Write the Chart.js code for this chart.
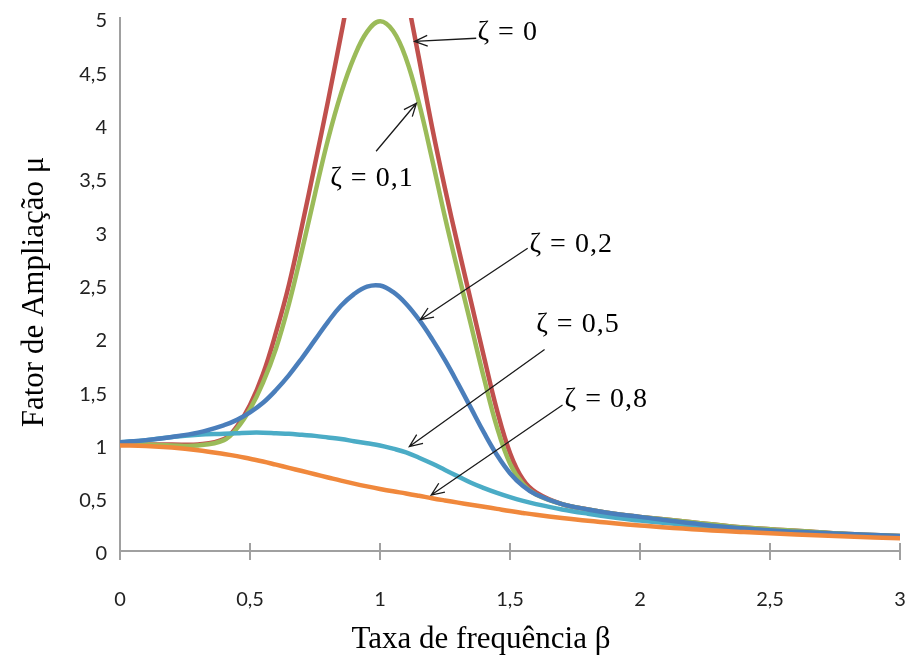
<!DOCTYPE html>
<html>
<head>
<meta charset="utf-8">
<title>Fator de Ampliação</title>
<script src="https://cdn.jsdelivr.net/npm/chart.js@4.4.1/dist/chart.umd.min.js"></script>
<style>
  body { margin: 0; background: #fff; }
</style>
</head>
<body>
<canvas id="chart" width="907" height="659"></canvas>
<script>
// frequency ratio (x) and amplification factor for each damping ratio
const beta = [0, 0.1, 0.2, 0.3, 0.4, 0.45, 0.5, 0.55, 0.6, 0.65, 0.7, 0.75, 0.8, 0.85, 0.9, 0.95,
              1, 1.05, 1.1, 1.15, 1.2, 1.25, 1.3, 1.35, 1.4, 1.45, 1.5, 1.55, 1.6, 1.7, 1.8, 1.9,
              2, 2.2, 2.4, 2.6, 2.8, 3];

const muZeta0  = [1.00, 1.00, 1.00, 1.00, 1.05, 1.17, 1.37, 1.66, 2.05, 2.50, 3.05, 3.63, 4.22, 4.84, 5.45, 5.90,
                  6.10, 5.90, 5.25, 4.62, 3.98, 3.40, 2.86, 2.34, 1.82, 1.32, 0.92, 0.67, 0.55, 0.44, 0.39, 0.35,
                  0.32, 0.27, 0.22, 0.19, 0.16, 0.14];
const muZeta01 = [1.00, 1.00, 0.99, 0.99, 1.04, 1.15, 1.33, 1.58, 1.90, 2.32, 2.82, 3.35, 3.86, 4.29, 4.63, 4.87,
                  4.97, 4.88, 4.62, 4.20, 3.68, 3.13, 2.62, 2.12, 1.62, 1.16, 0.82, 0.63, 0.53, 0.44, 0.39, 0.35,
                  0.32, 0.27, 0.22, 0.19, 0.16, 0.14];
const muZeta02 = [1.02, 1.04, 1.07, 1.11, 1.18, 1.23, 1.30, 1.39, 1.51, 1.65, 1.81, 1.98, 2.15, 2.30, 2.41, 2.48,
                  2.49, 2.43, 2.32, 2.17, 1.99, 1.79, 1.57, 1.34, 1.11, 0.90, 0.73, 0.61, 0.53, 0.44, 0.39, 0.35,
                  0.32, 0.26, 0.21, 0.18, 0.16, 0.14];
const muZeta05 = [1.02, 1.04, 1.07, 1.09, 1.10, 1.105, 1.11, 1.11, 1.105, 1.10, 1.09, 1.08, 1.065, 1.05, 1.03, 1.01,
                  0.99, 0.96, 0.925, 0.875, 0.82, 0.76, 0.70, 0.64, 0.59, 0.545, 0.505, 0.47, 0.44, 0.39, 0.35, 0.315,
                  0.285, 0.24, 0.20, 0.17, 0.15, 0.13];
const muZeta08 = [0.99, 0.985, 0.97, 0.945, 0.91, 0.89, 0.865, 0.84, 0.81, 0.78, 0.75, 0.72, 0.69, 0.66, 0.632, 0.606,
                  0.582, 0.56, 0.54, 0.518, 0.495, 0.474, 0.454, 0.434, 0.415, 0.395, 0.375, 0.357, 0.34, 0.31, 0.283, 0.26,
                  0.24, 0.205, 0.178, 0.155, 0.135, 0.12];

const xTickValues = [0, 0.5, 1, 1.5, 2, 2.5, 3];
const yTickValues = [0, 0.5, 1, 1.5, 2, 2.5, 3, 3.5, 4, 4.5, 5];

const xTitle = 'Taxa de frequência β';
const yTitle = 'Fator de Ampliação μ';

// callouts: label text, where the text sits, arrow tail and arrow tip (in chart units)
const notes = [
  { text: 'ζ = 0',   label: [1.375, 4.86], align: 'left',   tail: [1.370, 4.81], tip: [1.133, 4.78] },
  { text: 'ζ = 0,1', label: [0.969, 3.49], align: 'center', tail: [0.985, 3.75], tip: [1.140, 4.20] },
  { text: 'ζ = 0,2', label: [1.575, 2.87], align: 'left',   tail: [1.568, 2.84], tip: [1.155, 2.17] },
  { text: 'ζ = 0,5', label: [1.601, 2.12], align: 'left',   tail: [1.633, 1.89], tip: [1.113, 0.98] },
  { text: 'ζ = 0,8', label: [1.710, 1.42], align: 'left',   tail: [1.702, 1.37], tip: [1.197, 0.525] },
];

const axisColor = '#a0a0a0';
const tickFont = { family: 'Lato', size: 20 };

const series = [
  { label: 'ζ = 0',   data: muZeta0,  color: '#C0504D', order: 5 },
  { label: 'ζ = 0,1', data: muZeta01, color: '#9BBB59', order: 4 },
  { label: 'ζ = 0,5', data: muZeta05, color: '#4BACC6', order: 3 },
  { label: 'ζ = 0,2', data: muZeta02, color: '#4A7EBB', order: 2 },
  { label: 'ζ = 0,8', data: muZeta08, color: '#F0883C', order: 1 },
];

function comma(v) {
  return String(v).replace('.', ',');
}

function drawArrow(ctx, x1, y1, x2, y2) {
  const ang = Math.atan2(y2 - y1, x2 - x1);
  const len = 14, spread = 0.4;
  ctx.beginPath();
  ctx.moveTo(x1, y1);
  ctx.lineTo(x2, y2);
  ctx.moveTo(x2 - len * Math.cos(ang - spread), y2 - len * Math.sin(ang - spread));
  ctx.lineTo(x2, y2);
  ctx.lineTo(x2 - len * Math.cos(ang + spread), y2 - len * Math.sin(ang + spread));
  ctx.stroke();
}

const decorations = {
  id: 'decorations',
  afterDatasetsDraw(chart) {
    const { ctx, scales: { x, y } } = chart;
    ctx.save();
    ctx.strokeStyle = '#1a1a1a';
    ctx.lineWidth = 1.3;
    ctx.fillStyle = '#000';
    ctx.font = '28px "Liberation Serif"';
    ctx.letterSpacing = '1px';
    ctx.textBaseline = 'middle';
    notes.forEach(n => {
      drawArrow(ctx,
        x.getPixelForValue(n.tail[0]), y.getPixelForValue(n.tail[1]),
        x.getPixelForValue(n.tip[0]), y.getPixelForValue(n.tip[1]));
      ctx.textAlign = n.align;
      ctx.fillText(n.text, x.getPixelForValue(n.label[0]), y.getPixelForValue(n.label[1]));
    });
    ctx.restore();
  },
  afterDraw(chart) {
    const { ctx, scales: { x, y } } = chart;
    ctx.save();
    // tick marks cross the x axis, so draw the inner half too
    ctx.strokeStyle = axisColor;
    ctx.lineWidth = 2;
    ctx.beginPath();
    x.ticks.forEach(t => {
      const px = Math.round(x.getPixelForValue(t.value));
      ctx.moveTo(px, x.top);
      ctx.lineTo(px, x.top - 8);
    });
    ctx.stroke();

    ctx.fillStyle = '#000';
    ctx.font = '31px "Liberation Serif"';
    ctx.textAlign = 'center';
    ctx.textBaseline = 'alphabetic';
    ctx.fillText(xTitle, 481, 648);
    ctx.translate(43, 292);
    ctx.rotate(-Math.PI / 2);
    ctx.fillText(yTitle, 0, 0);
    ctx.restore();
  }
};

new Chart(document.getElementById('chart'), {
  type: 'line',
  data: {
    datasets: series.map(s => ({
      label: s.label,
      data: beta.map((b, i) => ({ x: b, y: s.data[i] })),
      borderColor: s.color,
      backgroundColor: s.color,
      borderWidth: 4.5,
      borderCapStyle: 'round',
      tension: 0.4,
      pointRadius: 0,
      order: s.order,
    })),
  },
  options: {
    responsive: false,
    animation: false,
    layout: { padding: { left: 0, right: 7, top: 18, bottom: 0 } },
    plugins: { legend: { display: false }, tooltip: { enabled: false } },
    scales: {
      x: {
        type: 'linear',
        min: 0,
        max: 3,
        afterFit: s => { s.height = 108; s.paddingLeft = 0; s.paddingRight = 0; },
        afterBuildTicks: s => { s.ticks = xTickValues.map(v => ({ value: v })); },
        ticks: { font: tickFont, color: '#222', padding: 28, maxRotation: 0, callback: comma },
        grid: { drawOnChartArea: false, drawTicks: true, tickLength: 9, color: axisColor, lineWidth: 2 },
        border: { color: axisColor, width: 2 },
      },
      y: {
        min: 0,
        max: 5,
        afterFit: s => { s.width = 120; s.paddingTop = 0; s.paddingBottom = 0; },
        afterBuildTicks: s => { s.ticks = yTickValues.map(v => ({ value: v })); },
        ticks: { font: tickFont, color: '#222', padding: 5, labelOffset: 3, callback: comma },
        grid: { display: false },
        border: { color: axisColor, width: 2 },
      },
    },
  },
  plugins: [decorations],
});
</script>
</body>
</html>
